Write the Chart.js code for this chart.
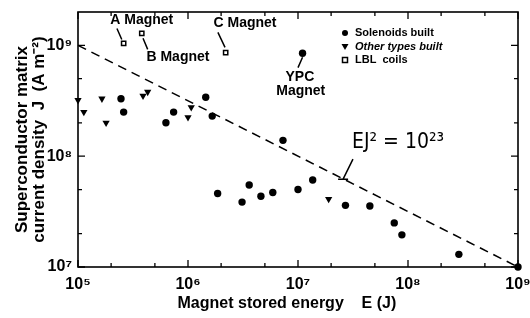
<!DOCTYPE html>
<html>
<head>
<meta charset="utf-8">
<script src="https://cdn.jsdelivr.net/npm/chart.js@4.4.1/dist/chart.umd.min.js"></script>
<style>
html, body { margin: 0; padding: 0; background: #fff; }
</style>
</head>
<body>
<canvas id="myChart" width="530" height="318"></canvas>
<script>
// data (E in J, J in A m^-2)
const solenoidE = [2.46e5, 2.6e5, 6.3e5, 7.4e5, 1.45e6, 1.66e6, 1.86e6, 3.1e6, 3.6e6, 4.6e6, 5.9e6, 7.3e6, 1.0e7, 1.1e7, 1.36e7, 2.7e7, 4.5e7, 7.5e7, 8.8e7, 2.9e8, 1e9];
const solenoidJ = [3.3e8, 2.5e8, 2.0e8, 2.5e8, 3.4e8, 2.3e8, 4.6e7, 3.85e7, 5.5e7, 4.35e7, 4.7e7, 1.39e8, 5.0e7, 8.5e8, 6.1e7, 3.6e7, 3.55e7, 2.5e7, 1.95e7, 1.3e7, 1e7];

const otherE = [1e5, 1.13e5, 1.65e5, 1.8e5, 3.9e5, 4.3e5, 1.0e6, 1.07e6, 1.9e7];
const otherJ = [3.2e8, 2.5e8, 3.3e8, 2.0e8, 3.5e8, 3.8e8, 2.24e8, 2.76e8, 4.1e7];

const lblE = [2.6e5, 3.8e5, 2.2e6];
const lblJ = [1.04e9, 1.28e9, 8.6e8];

// EJ^2 = 10^23
const limitE = [1e5, 1e9];
const limitJ = [1e9, 1e7];

// ticks
const xTicks = [1e5, 2e5, 5e5, 1e6, 2e6, 5e6, 1e7, 2e7, 5e7, 1e8, 2e8, 5e8, 1e9];
const xDecades = [1e5, 1e6, 1e7, 1e8, 1e9];
const xTickLabels = ['10\u2075', '10\u2076', '10\u2077', '10\u2078', '10\u2079'];
const yTicks = [1e7, 2e7, 5e7, 1e8, 2e8, 5e8, 1e9];
const yDecades = [1e7, 1e8, 1e9];
const yTickLabels = ['10\u2077', '10\u2078', '10\u2079'];

// annotations placed in data coordinates
const notes = [
    { text: 'A Magnet', e: 3.8e5, j: 1.68e9 },
    { text: 'B Magnet', e: 8.1e5, j: 7.8e8 },
    { text: 'C Magnet', e: 3.3e6, j: 1.58e9 },
    { text: 'YPC', e: 1.04e7, j: 5.15e8 },
    { text: 'Magnet', e: 1.06e7, j: 3.9e8 }
];
const leaders = [
    [2.26e5, 1.42e9, 2.5e5, 1.13e9],
    [3.9e5, 1.16e9, 4.3e5, 9.2e8],
    [1.87e6, 1.31e9, 2.17e6, 9.6e8],
    [1.1e7, 7.8e8, 1.0e7, 6.3e8],
    [3.16e7, 9.4e7, 2.57e7, 6.2e7]
];

const FONT = "'Liberation Sans', Arial, Helvetica, sans-serif";

function toPoints(xs, ys) {
    return xs.map((v, i) => ({ x: v, y: ys[i] }));
}

const decorPlugin = {
    id: 'decor',
    afterDatasetsDraw(chart) {
        const { ctx, chartArea: a, scales } = chart;
        const X = v => scales.x.getPixelForValue(v);
        const Y = v => scales.y.getPixelForValue(v);
        ctx.save();
        ctx.strokeStyle = '#000';
        ctx.fillStyle = '#000';

        // frame
        ctx.lineWidth = 1.6;
        ctx.strokeRect(a.left, a.top, a.right - a.left, a.bottom - a.top);

        // inward ticks on all four sides
        ctx.lineWidth = 1.3;
        ctx.beginPath();
        xTicks.forEach(v => {
            const px = X(v);
            const len = xDecades.includes(v) ? 7 : 4;
            ctx.moveTo(px, a.bottom); ctx.lineTo(px, a.bottom - len);
            ctx.moveTo(px, a.top); ctx.lineTo(px, a.top + len);
        });
        yTicks.forEach(v => {
            const py = Y(v);
            const len = yDecades.includes(v) ? 7 : 4;
            ctx.moveTo(a.left, py); ctx.lineTo(a.left + len, py);
            ctx.moveTo(a.right, py); ctx.lineTo(a.right - len, py);
        });
        ctx.stroke();

        // leader lines
        ctx.lineWidth = 1.5;
        ctx.beginPath();
        leaders.forEach(l => {
            ctx.moveTo(X(l[0]), Y(l[1]));
            ctx.lineTo(X(l[2]), Y(l[3]));
        });
        // small bar at the end of the EJ^2 leader
        const last = leaders[leaders.length - 1];
        ctx.moveTo(X(last[2]) - 5, Y(last[3]));
        ctx.lineTo(X(last[2]) + 5, Y(last[3]));
        ctx.stroke();

        // annotation texts
        ctx.textAlign = 'center';
        ctx.textBaseline = 'middle';
        ctx.font = 'bold 14px ' + FONT;
        notes.forEach(n => ctx.fillText(n.text, X(n.e), Y(n.j)));

        ctx.textAlign = 'left';
        ctx.font = "21px 'Liberation Sans Narrow', 'DejaVu Sans Condensed', " + FONT;
        ctx.fillText('EJ\u00b2 = 10\u00b2\u00b3', X(3.1e7), Y(1.34e8));

        // legend, top right of plot area
        const lx = a.right - 173;
        const rows = [a.top + 21, a.top + 35, a.top + 48];
        ctx.beginPath();
        ctx.arc(lx, rows[0], 3, 0, Math.PI * 2);
        ctx.fill();
        ctx.beginPath();
        ctx.moveTo(lx - 3.5, rows[1] - 3);
        ctx.lineTo(lx + 3.5, rows[1] - 3);
        ctx.lineTo(lx, rows[1] + 3);
        ctx.closePath();
        ctx.fill();
        ctx.lineWidth = 1.5;
        ctx.strokeRect(lx - 2.5, rows[2] - 2.5, 5, 5);

        ctx.font = 'bold 11px ' + FONT;
        ctx.fillText('Solenoids built', lx + 10, rows[0]);
        ctx.font = 'italic bold 11px ' + FONT;
        ctx.fillText('Other types built', lx + 10, rows[1]);
        ctx.font = 'bold 11px ' + FONT;
        ctx.fillText('LBL  coils', lx + 10, rows[2]);

        ctx.restore();
    }
};

const ctx = document.getElementById('myChart').getContext('2d');

const config = {
    type: 'scatter',
    data: {
        datasets: [
            {
                label: 'EJ^2 = 10^23',
                type: 'line',
                data: toPoints(limitE, limitJ),
                borderColor: '#000',
                borderWidth: 1.6,
                borderDash: [9, 6],
                pointRadius: 0,
                fill: false,
                clip: false
            },
            {
                label: 'Solenoids built',
                data: toPoints(solenoidE, solenoidJ),
                pointStyle: 'circle',
                pointRadius: 3.7,
                backgroundColor: '#000',
                borderColor: '#000',
                borderWidth: 0,
                clip: false
            },
            {
                label: 'Other types built',
                data: toPoints(otherE, otherJ),
                pointStyle: 'triangle',
                rotation: 180,
                pointRadius: 4.2,
                backgroundColor: '#000',
                borderColor: '#000',
                borderWidth: 0,
                clip: false
            },
            {
                label: 'LBL coils',
                data: toPoints(lblE, lblJ),
                pointStyle: 'rect',
                pointRadius: 3,
                backgroundColor: '#fff',
                borderColor: '#000',
                borderWidth: 1.5,
                clip: false
            }
        ]
    },
    options: {
        responsive: false,
        animation: false,
        layout: { padding: { top: 12, right: 12, left: 0, bottom: 0 } },
        plugins: {
            legend: { display: false },
            tooltip: { enabled: false }
        },
        scales: {
            x: {
                type: 'logarithmic',
                min: 1e5,
                max: 1e9,
                afterBuildTicks: s => { s.ticks = xTicks.map(v => ({ value: v })); },
                afterFit: s => {
                    s.height = 51;
                    s.paddingLeft = 0;
                    s.paddingRight = 0;
                },
                grid: { display: false, drawTicks: false },
                border: { display: false },
                ticks: {
                    autoSkip: false,
                    maxRotation: 0,
                    padding: 8,
                    color: '#000',
                    font: { family: FONT, size: 16, weight: 'bold' },
                    callback: v => {
                        const i = xDecades.indexOf(v);
                        return i >= 0 ? xTickLabels[i] : '';
                    }
                },
                title: {
                    display: true,
                    // trailing spaces nudge the centred title left, as in the original
                    text: 'Magnet stored energy    E (J)     ',
                    color: '#000',
                    font: { family: FONT, size: 16, weight: 'bold' },
                    padding: { top: 0, bottom: 5 }
                }
            },
            y: {
                type: 'logarithmic',
                min: 1e7,
                max: 2e9,
                afterBuildTicks: s => { s.ticks = yTicks.map(v => ({ value: v })); },
                afterFit: s => {
                    s.width = 78;
                    s.paddingTop = 0;
                    s.paddingBottom = 0;
                },
                grid: { display: false, drawTicks: false },
                border: { display: false },
                ticks: {
                    autoSkip: false,
                    padding: 6,
                    color: '#000',
                    font: { family: FONT, size: 16, weight: 'bold' },
                    callback: v => {
                        const i = yDecades.indexOf(v);
                        return i >= 0 ? yTickLabels[i] : '';
                    }
                },
                title: {
                    display: true,
                    text: ['Superconductor matrix', 'current density  J  (A m\u207b\u00b2)'],
                    color: '#000',
                    font: { family: FONT, size: 17, weight: 'bold', lineHeight: 1.0 },
                    padding: { top: 14, bottom: 0 }
                }
            }
        }
    },
    plugins: [decorPlugin]
};

const chart = new Chart(ctx, config);
</script>
</body>
</html>
